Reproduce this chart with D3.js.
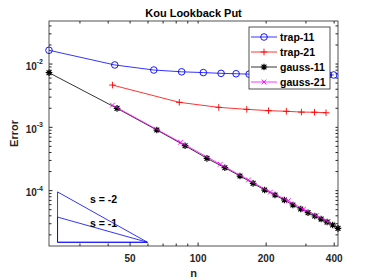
<!DOCTYPE html>
<html>
<head>
<meta charset="utf-8">
<script src="https://cdn.jsdelivr.net/npm/d3@7"></script>
<style>
  body { margin: 0; background: #fff; }
  svg { font-family: "Liberation Sans", Arial, sans-serif; font-weight: bold; }
</style>
</head>
<body>
<svg id="chart" width="374" height="280"></svg>
<script>
// Data (log-log convergence plot)
var nTrap11 = [22, 43, 64, 85, 106, 127, 148, 169, 190, 211, 232, 253, 274, 295, 316, 337, 358, 379, 400];
var errTrap11 = [0.0162, 0.0095, 0.0079, 0.0074, 0.0072, 0.0070, 0.0069, 0.0068, 0.0068, 0.0067,
                 0.0067, 0.0067, 0.0066, 0.0066, 0.0066, 0.0066, 0.0066, 0.0066, 0.0066];

var nTrap21 = [42, 83, 124, 165, 206, 247, 288, 329, 370];
var errTrap21 = [0.00457, 0.00244, 0.00203, 0.00189, 0.00180, 0.00176, 0.00171, 0.00170, 0.00167];

var nGauss11 = [22, 44, 66, 88, 110, 132, 154, 176, 198, 220, 242, 264, 286, 308, 330, 352, 374, 396, 418];
var errGauss11 = [0.00716, 0.00196, 0.00089, 0.000503, 0.000318, 0.000226, 0.000167, 0.000128, 0.0001003,
                  8.37e-5, 6.98e-5, 5.82e-5, 5.03e-5, 4.40e-5, 3.90e-5, 3.49e-5, 3.13e-5, 2.81e-5, 2.49e-5];

var nGauss21 = [42, 84, 126, 168, 210, 252, 294, 336, 378];
var errGauss21 = [0.00220, 0.000569, 0.000256, 0.000145, 9.3e-5, 6.8e-5, 5.0e-5, 3.95e-5, 3.16e-5];

var seriesNames = ["trap-11", "trap-21", "gauss-11", "gauss-21"];

// slope triangles: n from 24 to 60, base at 1.5e-5
var triN = [24, 60];
var triBase = 1.5e-5;
var triSlopes = [-2, -1];
var triLabels = ["s = -2", "s = -1"];
var triLabelPos = [[33.4, 7.2e-5], [33.4, 3.05e-5]];

var xDomain = [22, 418];
var yDomain = [1.31e-5, 0.047];
var xMajor = [50, 100, 200, 400];
var xMinor = [30, 40, 60, 70, 80, 90, 300];
var yMajor = [1e-2, 1e-3, 1e-4];

var svg = d3.select("#chart");
var margin = { left: 49, top: 21, right: 36, bottom: 34 };
var width = 374 - margin.left - margin.right,
    height = 280 - margin.top - margin.bottom;
var axisColor = "#262626";

var x = d3.scaleLog().domain(xDomain).range([margin.left, margin.left + width]);
var y = d3.scaleLog().domain(yDomain).range([margin.top + height, margin.top]);

// y minor ticks 2..9 per decade
var yMinor = [];
[1e-5, 1e-4, 1e-3, 1e-2].forEach(function (d) {
    for (var k = 2; k <= 9; k++) {
        var v = d * k;
        if (v > yDomain[0] && v < yDomain[1]) yMinor.push(v);
    }
});

// Axes box with inward ticks on all four sides
function tickAxis(axis, scale, values, size) {
    return axis(scale).tickValues(values).tickSize(-size).tickFormat("");
}
var tickLayer = svg.append("g").attr("color", axisColor);
tickLayer.append("g").attr("transform", `translate(0,${margin.top + height})`)
    .call(tickAxis(d3.axisBottom, x, xMinor, 2.5));
tickLayer.append("g").attr("transform", `translate(0,${margin.top})`)
    .call(tickAxis(d3.axisTop, x, xMinor.concat(xMajor), 2.5));
tickLayer.append("g").attr("transform", `translate(${margin.left},0)`)
    .call(tickAxis(d3.axisLeft, y, yMinor, 2.5));
tickLayer.append("g").attr("transform", `translate(${margin.left + width},0)`)
    .call(tickAxis(d3.axisRight, y, yMinor.concat(yMajor), 2.5));
tickLayer.selectAll(".domain").remove();

// labelled bottom axis
var xAxis = svg.append("g")
    .attr("transform", `translate(0,${margin.top + height})`)
    .attr("color", axisColor)
    .call(d3.axisBottom(x).tickValues(xMajor).tickSize(-3.5).tickPadding(9).tickFormat(d3.format("d")));
xAxis.select(".domain").remove();
xAxis.selectAll("text").attr("font-size", 10).attr("font-family", null).attr("fill", axisColor);

// labelled left axis with 10^k labels
var yAxis = svg.append("g")
    .attr("transform", `translate(${margin.left},0)`)
    .attr("color", axisColor)
    .call(d3.axisLeft(y).tickValues(yMajor).tickSize(-3.5).tickFormat(""));
yAxis.select(".domain").remove();
yMajor.forEach(function (v) {
    var t = svg.append("text")
        .attr("x", margin.left - 6)
        .attr("y", y(v) + 6)
        .attr("text-anchor", "end")
        .attr("fill", axisColor)
        .attr("font-size", 10);
    t.append("tspan").text("10");
    t.append("tspan").attr("font-size", 7).attr("dy", -5.5).text(Math.round(Math.log10(v)));
});

svg.append("rect")
    .attr("x", margin.left).attr("y", margin.top)
    .attr("width", width).attr("height", height)
    .attr("fill", "none").attr("stroke", axisColor).attr("stroke-width", 0.8);

// marker shapes
function markerPath(type) {
    var r = 3.3, a = 2.4;
    if (type === "o") return d3.symbol().type(d3.symbolCircle).size(Math.PI * r * r)();
    if (type === "+") return `M${-r},0H${r}M0,${-r}V${r}`;
    if (type === "x") return `M${-a},${-a}L${a},${a}M${-a},${a}L${a},${-a}`;
    // asterisk
    return `M${-r},0H${r}M0,${-r}V${r}M${-a},${-a}L${a},${a}M${-a},${a}L${a},${-a}`;
}

var series = [
    { name: seriesNames[0], n: nTrap11, err: errTrap11, color: "#0000ff", marker: "o" },
    { name: seriesNames[1], n: nTrap21, err: errTrap21, color: "#ff0000", marker: "+" },
    { name: seriesNames[2], n: nGauss11, err: errGauss11, color: "#000000", marker: "*" },
    { name: seriesNames[3], n: nGauss21, err: errGauss21, color: "#ff00ff", marker: "x" }
];

var line = d3.line().x(d => x(d[0])).y(d => y(d[1]));

var plot = svg.append("g");
series.forEach(function (s) {
    var pts = s.n.map((n, i) => [n, s.err[i]]);
    plot.append("path")
        .attr("d", line(pts))
        .attr("fill", "none")
        .attr("stroke", s.color)
        .attr("stroke-width", 0.8);
    plot.append("g").selectAll("path")
        .data(pts)
        .join("path")
        .attr("transform", d => `translate(${x(d[0])},${y(d[1])})`)
        .attr("d", markerPath(s.marker))
        .attr("fill", "none")
        .attr("stroke", s.color)
        .attr("stroke-width", s.marker === "*" ? 1.2 : 0.9);
});

// slope triangles
triSlopes.forEach(function (s) {
    var top = triBase * Math.pow(triN[1] / triN[0], -s);
    plot.append("path")
        .attr("d", line([[triN[0], triBase], [triN[1], triBase], [triN[0], top], [triN[0], triBase]]))
        .attr("fill", "none")
        .attr("stroke", "#0000ff")
        .attr("stroke-width", 0.8);
});
triLabels.forEach(function (t, i) {
    svg.append("text")
        .attr("x", x(triLabelPos[i][0]))
        .attr("y", y(triLabelPos[i][1]))
        .attr("dominant-baseline", "central")
        .attr("font-size", 10.5)
        .attr("fill", "#000")
        .text(t);
});

// title and axis labels
svg.append("text")
    .attr("x", margin.left + width / 2).attr("y", 17)
    .attr("text-anchor", "middle").attr("font-size", 11).attr("fill", "#000")
    .text("Kou Lookback Put");
svg.append("text")
    .attr("x", margin.left + width / 2).attr("y", 276.5)
    .attr("text-anchor", "middle").attr("font-size", 11).attr("fill", axisColor)
    .text("n");
svg.append("text")
    .attr("transform", `translate(18,${margin.top + height / 2}) rotate(-90)`)
    .attr("text-anchor", "middle").attr("font-size", 11).attr("fill", axisColor)
    .text("Error");

// legend
var legend = svg.append("g").attr("transform", "translate(249,27)");
legend.append("rect")
    .attr("width", 81).attr("height", 62)
    .attr("fill", "#fff").attr("stroke", axisColor).attr("stroke-width", 0.8);
series.forEach(function (s, i) {
    var ly = 10 + i * 15;
    legend.append("line")
        .attr("x1", 2).attr("x2", 28).attr("y1", ly).attr("y2", ly)
        .attr("stroke", s.color).attr("stroke-width", 0.8);
    legend.append("path")
        .attr("transform", `translate(15,${ly})`)
        .attr("d", markerPath(s.marker))
        .attr("fill", "none").attr("stroke", s.color)
        .attr("stroke-width", s.marker === "*" ? 1.2 : 0.9);
    legend.append("text")
        .attr("x", 31).attr("y", ly)
        .attr("dominant-baseline", "central")
        .attr("font-size", 10.5).attr("fill", "#000")
        .text(s.name);
});
</script>
</body>
</html>
